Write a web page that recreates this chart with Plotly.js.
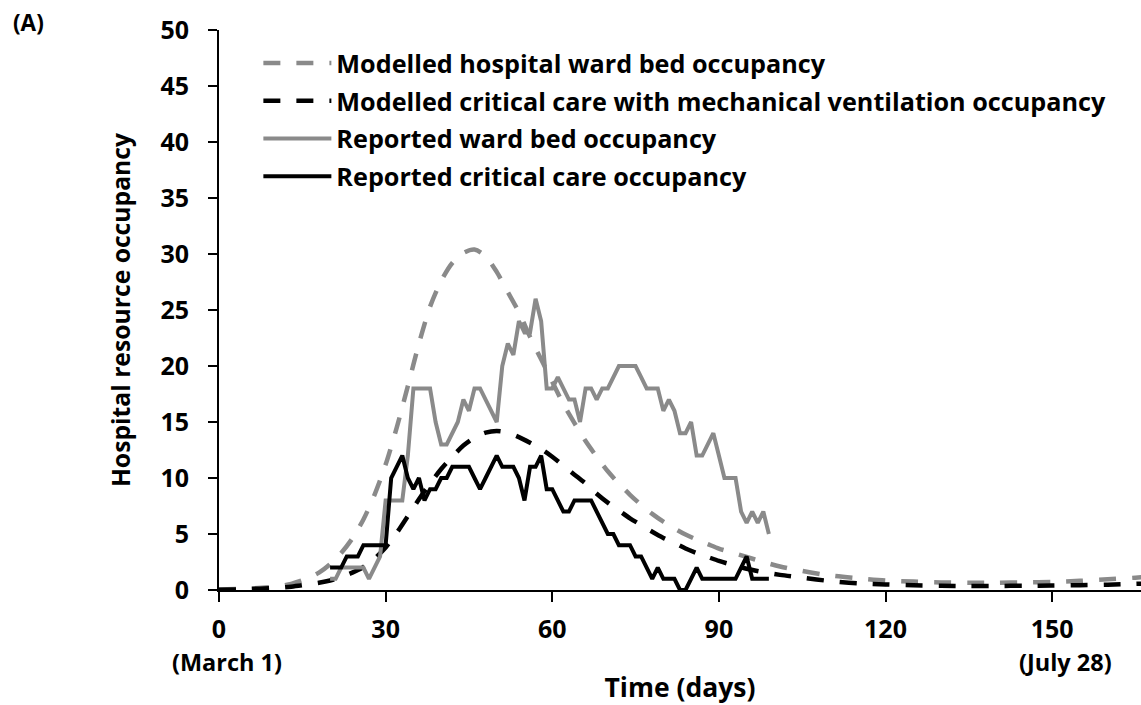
<!DOCTYPE html>
<html>
<head>
<meta charset="utf-8">
<script src="https://cdn.plot.ly/plotly-3.0.1.min.js"></script>
<style>
  html, body { margin: 0; padding: 0; background: #ffffff; }
  #chart { width: 1141px; height: 705px; }
</style>
</head>
<body>
<div id="chart"></div>
<script>
// ---- Data ----
const modelDays = [0, 5, 10, 13, 16, 18, 20, 22, 24, 26, 28, 30, 32, 34, 36, 38, 40, 42, 44, 46, 48, 50,
  52, 54, 56, 58, 60, 62, 64, 66, 68, 70, 72, 74, 76, 78, 80, 82, 84, 86, 88, 90, 92, 95, 98, 101,
  105, 110, 115, 120, 125, 130, 135, 140, 145, 150, 155, 160, 165, 170];

const modelledWard = [0.05, 0.12, 0.3, 0.55, 1.05, 1.55, 2.3, 3.3, 4.6, 6.3, 8.5, 11.2, 14.5, 18.2, 22.0,
  25.3, 27.6, 29.2, 30.1, 30.4, 29.8, 28.4, 26.6, 24.8, 22.6, 20.6, 18.6, 16.6, 14.9, 13.3, 11.9,
  10.6, 9.5, 8.5, 7.6, 6.8, 6.1, 5.5, 4.95, 4.5, 4.1, 3.7, 3.4, 2.95, 2.5, 2.1, 1.7, 1.3, 1.05,
  0.85, 0.75, 0.68, 0.65, 0.65, 0.68, 0.72, 0.82, 0.95, 1.1, 1.25];

const modelledCritical = [0.02, 0.08, 0.18, 0.3, 0.5, 0.65, 0.85, 1.15, 1.55, 2.05, 2.8, 3.8, 5.1, 6.6,
  8.1, 9.5, 10.8, 11.9, 12.9, 13.6, 14.05, 14.2, 14.05, 13.65, 13.15, 12.6, 11.9, 11.1, 10.3, 9.5,
  8.6, 7.8, 7.1, 6.4, 5.8, 5.2, 4.65, 4.2, 3.7, 3.3, 2.95, 2.6, 2.3, 1.9, 1.6, 1.35, 1.1, 0.8, 0.6,
  0.5, 0.42, 0.38, 0.36, 0.36, 0.38, 0.4, 0.43, 0.47, 0.55, 0.62];

const reportedDays = [20, 21, 22, 23, 24, 25, 26, 27, 28, 29, 30, 31, 32, 33, 34, 35, 36, 37, 38, 39,
  40, 41, 42, 43, 44, 45, 46, 47, 48, 49, 50, 51, 52, 53, 54, 55, 56, 57, 58, 59,
  60, 61, 62, 63, 64, 65, 66, 67, 68, 69, 70, 71, 72, 73, 74, 75, 76, 77, 78, 79,
  80, 81, 82, 83, 84, 85, 86, 87, 88, 89, 90, 91, 92, 93, 94, 95, 96, 97, 98, 99];

const reportedWard = [1, 1, 2, 2, 2, 2, 2, 1, 2, 3, 8, 8, 8, 8, 12, 18, 18, 18, 18, 15,
  13, 13, 14, 15, 17, 16, 18, 18, 17, 16, 15, 20, 22, 21, 24, 23, 23, 26, 24, 18,
  18, 19, 18, 17, 17, 15, 18, 18, 17, 18, 18, 19, 20, 20, 20, 20, 19, 18, 18, 18,
  16, 17, 16, 14, 14, 15, 12, 12, 13, 14, 12, 10, 10, 10, 7, 6, 7, 6, 7, 5];

const reportedCritical = [2, 2, 2, 3, 3, 3, 4, 4, 4, 4, 4, 10, 11, 12, 10, 9, 10, 8, 9, 9,
  10, 10, 11, 11, 11, 11, 10, 9, 10, 11, 12, 11, 11, 11, 10, 8, 11, 11, 12, 9,
  9, 8, 7, 7, 8, 8, 8, 8, 7, 6, 5, 5, 4, 4, 4, 3, 3, 2, 1, 2,
  1, 1, 1, 0, 0, 1, 2, 1, 1, 1, 1, 1, 1, 1, 2, 3, 1, 1, 1, 1];

const seriesNames = [
  'Modelled hospital ward bed occupancy',
  'Modelled critical care with mechanical ventilation occupancy',
  'Reported ward bed occupancy',
  'Reported critical care occupancy'
];

const xTickVals = [0, 30, 60, 90, 120, 150];
const yTickVals = [0, 5, 10, 15, 20, 25, 30, 35, 40, 45, 50];

// ---- Styling ----
const FONT = '"Open Sans", "Noto Sans", "Liberation Sans", sans-serif';
const GREY = '#8a8a8a';
const BLACK = '#000000';
const DASH = '17px,16px';

const traces = [
  { x: modelDays, y: modelledWard, name: seriesNames[0], mode: 'lines', legendgroup: 'a',
    line: { color: GREY, width: 4.5, dash: DASH, shape: 'spline', smoothing: 0.8 } },
  { x: modelDays, y: modelledCritical, name: seriesNames[1], mode: 'lines', legendgroup: 'b',
    line: { color: BLACK, width: 4.5, dash: DASH, shape: 'spline', smoothing: 0.8 } },
  { x: reportedDays, y: reportedWard, name: seriesNames[2], mode: 'lines', legendgroup: 'c',
    line: { color: GREY, width: 4 } },
  { x: reportedDays, y: reportedCritical, name: seriesNames[3], mode: 'lines', legendgroup: 'd',
    line: { color: BLACK, width: 4 } }
];

const layout = {
  width: 1141,
  height: 705,
  margin: { l: 219, r: 0, t: 30, b: 115, pad: 0 },
  paper_bgcolor: '#ffffff',
  plot_bgcolor: '#ffffff',
  font: { family: FONT, color: '#000000', size: 23, weight: 'bold' },
  showlegend: true,
  legend: {
    x: 0.0427, xanchor: 'left', y: 0.982, yanchor: 'top',
    bgcolor: 'rgba(0,0,0,0)', borderwidth: 0,
    font: { family: FONT, size: 25.2, color: '#000000', weight: 'bold' },
    tracegroupgap: 2, traceorder: 'grouped', itemwidth: 68
  },
  xaxis: {
    range: [0, 166],
    tickmode: 'array', tickvals: xTickVals, ticktext: xTickVals.map(String),
    ticks: 'outside', ticklen: 10, tickwidth: 2, tickcolor: '#000000',
    showline: true, linecolor: '#000000', linewidth: 2,
    showgrid: false, zeroline: false,
    tickfont: { family: FONT, size: 25, weight: 'bold', color: '#000000' },
    ticklabelstandoff: 6,
    title: { text: 'Time (days)', font: { family: FONT, size: 26.5, weight: 'bold', color: '#000000' }, standoff: 38 }
  },
  yaxis: {
    range: [0, 50],
    tickmode: 'array', tickvals: yTickVals, ticktext: yTickVals.map(String),
    ticks: 'outside', ticklen: 9, tickwidth: 2, tickcolor: '#000000',
    showline: true, linecolor: '#000000', linewidth: 2,
    showgrid: false, zeroline: false,
    tickfont: { family: FONT, size: 25, weight: 'bold', color: '#000000' },
    ticklabelstandoff: 14,
    title: { text: 'Hospital resource occupancy', font: { family: FONT, size: 24.7, weight: 'bold', color: '#000000' }, standoff: 23 }
  },
  annotations: [
    { text: '(March 1)', xref: 'x', yref: 'paper', x: 0, y: -0.1286, xanchor: 'center', yanchor: 'middle',
      xshift: 8, showarrow: false, font: { family: FONT, size: 23.5, weight: 'bold', color: '#000000' } },
    { text: '(July 28)', xref: 'x', yref: 'paper', x: 150, y: -0.1286, xanchor: 'center', yanchor: 'middle',
      xshift: 13, showarrow: false, font: { family: FONT, size: 23.5, weight: 'bold', color: '#000000' } },
    { text: '(A)', xref: 'paper', yref: 'paper', x: -0.207, y: 1.014, xanchor: 'center', yanchor: 'middle',
      showarrow: false, font: { family: FONT, size: 22.5, weight: 'bold', color: '#000000' } }
  ]
};

Plotly.newPlot('chart', traces, layout, { displayModeBar: false, staticPlot: true });
</script>
</body>
</html>
